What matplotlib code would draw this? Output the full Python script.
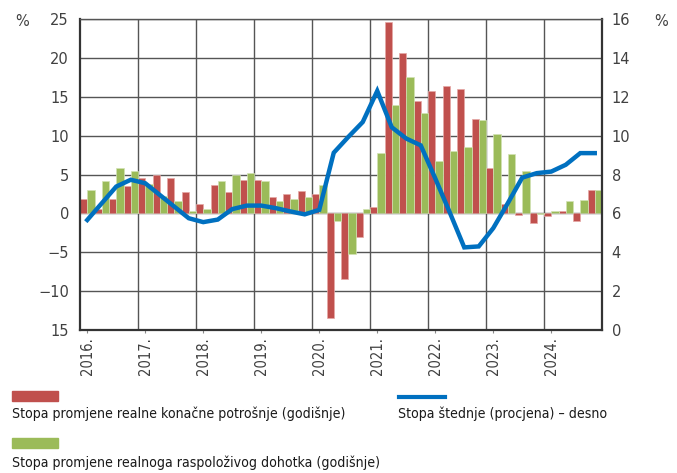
import numpy as np
import matplotlib
matplotlib.use("Agg")
import matplotlib.pyplot as plt
from matplotlib.patches import Rectangle
from matplotlib.lines import Line2D

# quarterly data 2016Q1 - 2024Q4
years = ["2016.", "2017.", "2018.", "2019.", "2020.", "2021.", "2022.", "2023.", "2024."]

potrosnja = [1.8, 0.5, 1.8, 3.5, 4.5, 5.0, 4.5, 2.7,
             1.2, 3.6, 2.7, 4.3, 4.3, 2.1, 2.5, 2.9,
             2.55, -13.4, -8.5, -3.0, 0.85, 24.6, 20.6, 14.4,
             15.8, 16.4, 16.0, 12.2, 5.9, 1.2, -0.2, -1.3,
             -0.3, 0.3, -1.0, 3.0]

dohodak = [3.0, 4.1, 5.8, 5.4, 3.8, 2.2, 1.6, 0.3,
           0.5, 4.1, 4.9, 5.2, 4.1, 1.6, 1.9, 2.1,
           3.6, -0.95, -5.2, 0.5, 7.8, 14.0, 17.5, 12.9,
           6.7, 8.0, 8.5, 12.0, 10.2, 7.6, 5.4, -0.1,
           0.3, 1.55, 1.7, 3.0]

stednja = [5.66, 6.52, 7.38, 7.73, 7.55, 6.95, 6.35, 5.75,
           5.55, 5.68, 6.22, 6.4, 6.4, 6.27, 6.1, 5.95,
           6.18, 9.12, 9.93, 10.7, 12.3, 10.43, 9.85, 9.5,
           7.8, 6.05, 4.25, 4.3, 5.24, 6.52, 7.84, 8.07,
           8.15, 8.5, 9.1, 9.1]

lbl_red = "Stopa promjene realne konačne potrošnje (godišnje)"
lbl_green = "Stopa promjene realnoga raspoloživog dohotka (godišnje)"
lbl_blue = "Stopa štednje (procjena) – desno"

RED = "#C0504D"
GREEN = "#9BBB59"
BLUE = "#0070C0"
GRID = "#555555"
TXT = "#404040"
COND = dict(family="DejaVu Sans", stretch="condensed")

x = np.arange(len(potrosnja))

fig = plt.figure(figsize=(6.77, 4.73), dpi=100)
ax = fig.add_axes([80 / 677, 1 - 330 / 473, 522 / 677, 311 / 473])

ax.bar(x - 0.25, potrosnja, width=0.5, color=RED, edgecolor="#E6A8A6", linewidth=0.5, zorder=2)
ax.bar(x + 0.25, dohodak, width=0.5, color=GREEN, edgecolor="#D2E3B4", linewidth=0.5, zorder=2)

ax.set_xlim(-0.5, len(x) - 0.5)
ax.set_ylim(-15, 25)
ax.set_yticks(range(-15, 26, 5))
ax.set_yticklabels(["15", "\u221210", "\u22125", "0", "5", "10", "15", "20", "25"])
ax.yaxis.grid(True, color=GRID, linewidth=1.0, zorder=0)
for k in range(1, len(years)):
    ax.axvline(4 * k - 0.5, color=GRID, linewidth=1.0, zorder=0)

ax.set_xticks(np.arange(0, len(x), 4))
ax.set_xticklabels(years, rotation=90, fontsize=10.5, color=TXT, **COND)
ax.tick_params(axis="x", length=2, width=0.8, color="#888888", pad=3)
ax.tick_params(axis="y", length=0, pad=8, labelsize=10.5, labelcolor=TXT)
for s in ["left", "right", "bottom"]:
    ax.spines[s].set_linewidth(1.6)
    ax.spines[s].set_color("#333333")
ax.spines["top"].set_linewidth(1.0)
ax.spines["top"].set_color(GRID)

ax2 = ax.twinx()
ax2.plot(x, stednja, color=BLUE, linewidth=3.2, solid_joinstyle="miter", zorder=3)
ax2.set_ylim(0, 16)
ax2.set_yticks(range(0, 17, 2))
ax2.tick_params(axis="y", length=0, pad=7, labelsize=10.5, labelcolor=TXT)
for s in ax2.spines.values():
    s.set_visible(False)

fig.text(22 / 677, 1 - 22 / 473, "%", fontsize=10.5, color=TXT, ha="center", va="center")
fig.text(661 / 677, 1 - 22 / 473, "%", fontsize=10.5, color=TXT, ha="center", va="center")

# legend drawn by hand
fig.patches.append(Rectangle((12 / 677, 1 - 401 / 473), 46 / 677, 10 / 473,
                             transform=fig.transFigure, color=RED))
fig.patches.append(Rectangle((12 / 677, 1 - 448 / 473), 46 / 677, 10 / 473,
                             transform=fig.transFigure, color=GREEN))
fig.lines.append(Line2D([399 / 677, 445 / 677], [1 - 397 / 473, 1 - 397 / 473],
                        transform=fig.transFigure, color=BLUE, linewidth=3))
fig.text(12 / 677, 1 - 414 / 473, lbl_red, fontsize=10.1, color="#1a1a1a", va="center", **COND)
fig.text(12 / 677, 1 - 463 / 473, lbl_green, fontsize=10.1, color="#1a1a1a", va="center", **COND)
fig.text(398 / 677, 1 - 414 / 473, lbl_blue, fontsize=10.1, color="#1a1a1a", va="center", **COND)

fig.savefig("out.png", dpi=100)
